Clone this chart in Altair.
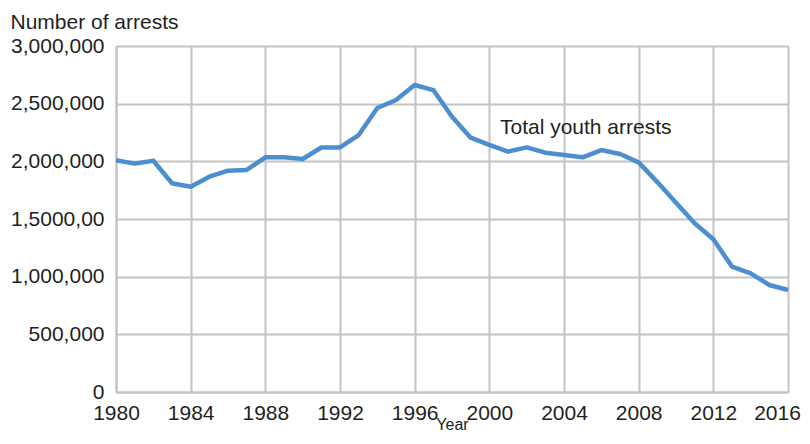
import altair as alt
import pandas as pd

years = list(range(1980, 2017))
arrests = [
    2010000, 1980000, 2005000, 1810000, 1780000, 1867000, 1919000, 1925000,
    2035000, 2035000, 2020000, 2120000, 2120000, 2228000, 2462000, 2532000,
    2662000, 2618000, 2387000, 2205000, 2142000, 2084000, 2121000, 2075000,
    2055000, 2035000, 2098000, 2064000, 1991000, 1820000, 1640000, 1463000,
    1324000, 1087000, 1029000, 928000, 884000,
]
x_ticks = list(range(1980, 2017, 4))
y_tick_values = [0, 500000, 1000000, 1500000, 2000000, 2500000, 3000000]
y_tick_labels = ["0", "500,000", "1,000,000", "1,5000,00", "2,000,000", "2,500,000", "3,000,000"]
series_label = "Total youth arrests"
label_year = 2000.57
label_value = 2237000

df = pd.DataFrame({"Year": years, "Arrests": arrests})

label_expr = " : ".join(
    [f"datum.value == {v} ? '{l}'" for v, l in zip(y_tick_values, y_tick_labels)] + ["''"]
)

FONT = "Liberation Sans"
TXT = "#231f20"
GRID = "#c3c3c7"
FS = 21

base = alt.Chart(df)

line = base.mark_line(color="#4b8fd1", strokeWidth=4.5, strokeJoin="round", clip=False).encode(
    x=alt.X(
        "Year:Q",
        scale=alt.Scale(domain=[1980, 2016], nice=False, zero=False),
        axis=alt.Axis(
            values=x_ticks, format="d", ticks=False, labelPadding=10,
            labelFontSize=FS, labelFont=FONT, labelColor=TXT,
            labelOffset={"condition": {"test": "datum.value == 2016", "value": -11}, "value": 0},
            gridColor=GRID, gridWidth=2, domainColor=GRID, domainWidth=2,
            title="Year", titleFontSize=16, titleFont=FONT, titleColor=TXT,
            titleFontWeight="normal", titleBaseline="alphabetic", titleY=37,
            labelFlush=False, labelOverlap=False,
        ),
    ),
    y=alt.Y(
        "Arrests:Q",
        scale=alt.Scale(domain=[0, 3000000], nice=False),
        axis=alt.Axis(
            values=y_tick_values, labelExpr=label_expr, ticks=False, labelPadding=12,
            labelFontSize=FS, labelFont=FONT, labelColor=TXT,
            gridColor=GRID, gridWidth=2, domainColor=GRID, domainWidth=2,
            labelOverlap=False,
            title="Number of arrests", titleAngle=0, titleAlign="left",
            titleBaseline="alphabetic", titleX=-106, titleY=-18,
            titleFontSize=FS, titleFont=FONT, titleColor=TXT, titleFontWeight="normal",
        ),
    ),
)

label = alt.Chart(pd.DataFrame({"t": [series_label]})).mark_text(
    align="left", baseline="alphabetic", fontSize=FS, font=FONT, color=TXT
).encode(
    x=alt.datum(label_year),
    y=alt.datum(label_value),
    text="t:N",
)

chart = (
    alt.layer(line, label)
    .properties(
        width=672, height=346,
        autosize=alt.AutoSizeParams(type="none"),
        padding={"left": 108, "top": 38, "right": 14, "bottom": 40},
    )
    .configure_view(stroke=GRID, strokeWidth=2)
    .configure(background="white")
)

chart.save("out.html", embed_options={"renderer": "svg", "actions": False})
